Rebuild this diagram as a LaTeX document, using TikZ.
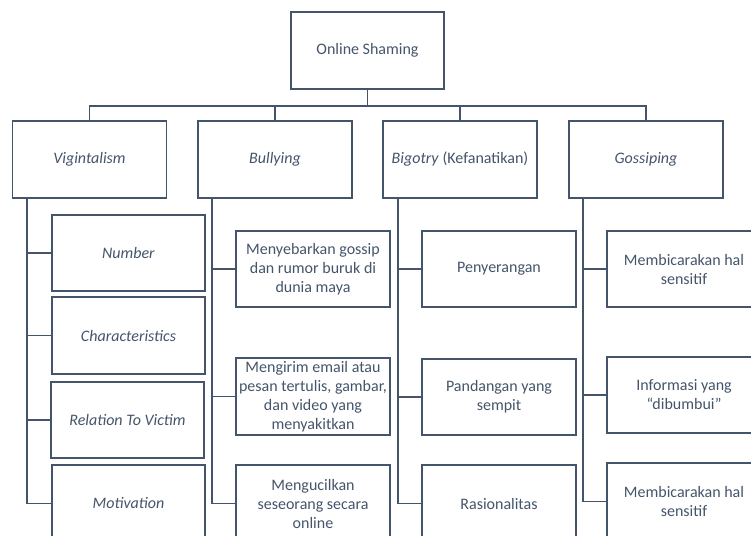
\documentclass[tikz,border=0pt]{standalone}
\usepackage{fontspec}
\setmainfont{Carlito}
\usepackage{xcolor}
\definecolor{SlateText}{HTML}{44546A}

\begin{document}
\begin{tikzpicture}[x=1pt, y=-1pt,
    every node/.style={font=\fontsize{16}{19}\selectfont, text=SlateText},
    box/.style={draw=SlateText, line width=1.7pt, minimum width=153pt, minimum height=77pt, align=center, inner sep=0pt},
    link/.style={draw=SlateText, line width=1.8pt}]

    %Page frame
    \useasboundingbox (0,0) rectangle (751,535); %Picture size
    \clip (0,0) rectangle (751,535); %Boxes are cut at the edge

    %Top box
    \node[box] (root) at (367.5,50.5) {Online Shaming};

    %Main branches
    \node[box, minimum width=154pt] (vig) at (89.5,159.5) {\textit{Vigintalism}};          %Left
    \node[box, minimum width=154pt] (bul) at (275,159.5) {\textit{Bullying}};              %Middle left
    \node[box, minimum width=154pt] (big) at (460,159.5) {\textit{Bigotry} (Kefanatikan)}; %Middle right
    \node[box, minimum width=154pt] (gos) at (646,159.5) {\textit{Gossiping}};             %Right

    %Vigintalism items
    \node[box, minimum height=76pt] (num) at (128.5,253) {\textit{Number}};
    \node[box] (cha) at (128.5,335.5) {\textit{Characteristics}};
    \node[box, minimum height=76pt] (rel) at (127.5,420) {\textit{Relation To Victim}};
    \node[box] (mot) at (128.5,503.5) {\textit{Motivation}};

    %Bullying items
    \node[box, minimum width=154pt, minimum height=76pt] (bulA) at (313,269) {Menyebarkan gossip\\dan rumor buruk di\\dunia maya};
    \node[box, minimum width=154pt] (bulB) at (313,396.5) {Mengirim email atau\\pesan tertulis, gambar,\\dan video yang\\menyakitkan};
    \node[box, minimum width=154pt] (bulC) at (313,503.5) {Mengucilkan\\seseorang secara\\online};

    %Bigotry items
    \node[box, minimum width=154pt, minimum height=76pt] (bigA) at (499,269) {Penyerangan};
    \node[box, minimum width=154pt, minimum height=76pt] (bigB) at (499,397) {Pandangan yang\\sempit};
    \node[box, minimum width=154pt] (bigC) at (499,503.5) {Rasionalitas};

    %Gossiping items
    \node[box, minimum width=154pt, minimum height=76pt] (gosA) at (684,269) {Membicarakan hal\\sensitif};
    \node[box, minimum width=154pt, minimum height=76pt] (gosB) at (684,395) {Informasi yang\\“dibumbui”};
    \node[box, minimum width=154pt] (gosC) at (684,501.5) {Membicarakan hal\\sensitif};

    %Top connectors
    \draw[link] (root.south) -- ++(0,16.5) -| (vig.north); %To Vigintalism
    \draw[link] (root.south) -- ++(0,16.5) -| (bul.north); %To Bullying
    \draw[link] (root.south) -- ++(0,16.5) -| (big.north); %To Bigotry
    \draw[link] (root.south) -- ++(0,16.5) -| (gos.north); %To Gossiping

    %Vigintalism connectors
    \draw[link] ([xshift=15pt]vig.south west) |- (num.west);
    \draw[link] ([xshift=15pt]vig.south west) |- (cha.west);
    \draw[link] ([xshift=15pt]vig.south west) |- (rel.west);
    \draw[link] ([xshift=15pt]vig.south west) |- (mot.west);

    %Bullying connectors
    \draw[link] ([xshift=15pt]bul.south west) |- (bulA.west);
    \draw[link] ([xshift=15pt]bul.south west) |- (bulB.west);
    \draw[link] ([xshift=15pt]bul.south west) |- (bulC.west);

    %Bigotry connectors
    \draw[link] ([xshift=16pt]big.south west) |- (bigA.west);
    \draw[link] ([xshift=16pt]big.south west) |- (bigB.west);
    \draw[link] ([xshift=16pt]big.south west) |- (bigC.west);

    %Gossiping connectors
    \draw[link] ([xshift=15pt]gos.south west) |- (gosA.west);
    \draw[link] ([xshift=15pt]gos.south west) |- (gosB.west);
    \draw[link] ([xshift=15pt]gos.south west) |- (gosC.west);

\end{tikzpicture}
\end{document}
